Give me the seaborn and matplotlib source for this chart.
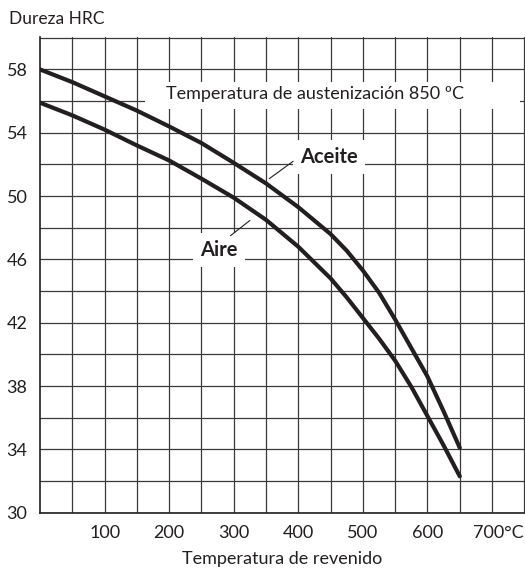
import pandas as pd
import seaborn as sns
import matplotlib
matplotlib.use('Agg')
import matplotlib.pyplot as plt
import matplotlib.transforms as mtransforms
from matplotlib.patches import Rectangle

# Tempering curves
temp = [0, 50, 100, 150, 200, 250, 300, 350, 400, 450, 475, 500, 525, 550, 575, 600, 625, 650]
aceite = [58.0, 57.2, 56.3, 55.4, 54.4, 53.35, 52.1, 50.8, 49.3, 47.6, 46.55, 45.3, 43.9, 42.2,
          40.4, 38.6, 36.4, 34.1]
aire = [55.9, 55.1, 54.2, 53.2, 52.25, 51.1, 49.9, 48.5, 46.8, 44.8, 43.6, 42.3, 41.0, 39.6,
        37.95, 36.1, 34.25, 32.3]

x_ticks = [100, 200, 300, 400, 500, 600, 700]
x_labels = ['100', '200', '300', '400', '500', '600', '700°C']
y_ticks = [30, 34, 38, 42, 46, 50, 54, 58]

df = pd.DataFrame({
    'temp': temp * 2,
    'hrc': aceite + aire,
    'medio': ['Aceite'] * len(temp) + ['Aire'] * len(temp),
})

sns.set_style('white')
plt.rcParams['font.family'] = ['Lato', 'DejaVu Sans']
ink = '#231f20'

fig = plt.figure(figsize=(5.25, 5.76), dpi=100)
ax = fig.add_axes([40 / 525, 63.3 / 576, 485 / 525, 475.7 / 576])

sns.lineplot(data=df, x='temp', y='hrc', hue='medio', palette=[ink, ink],
             linewidth=3.0, legend=False, ax=ax, zorder=4)
for line in ax.lines:
    line.set_solid_joinstyle('round')

ax.set_xlim(0, 751)
ax.set_ylim(30, 60.05)
ax.set_xticks(x_ticks)
ax.set_xticklabels(x_labels)
ax.set_xticks(range(50, 751, 50), minor=True)
ax.set_yticks(y_ticks)
ax.set_yticks(range(30, 61, 2), minor=True)
ax.grid(True, which='both', color='#3a3a3a', linewidth=0.9)
ax.set_axisbelow(True)
ax.tick_params(which='both', length=0, labelsize=13, colors=ink)
ax.tick_params(axis='x', pad=9)
ax.tick_params(axis='y', pad=9)

for side in ['top', 'right']:
    ax.spines[side].set_visible(False)
for side in ['left', 'bottom']:
    ax.spines[side].set_color(ink)
    ax.spines[side].set_linewidth(1.2)

# "700°C": keep the number roughly centred on its grid line
last = ax.get_xticklabels()[-1]
last.set_transform(last.get_transform() + mtransforms.ScaledTranslation(6 / 100, 0, fig.dpi_scale_trans))

ax.set_xlabel('Temperatura de revenido', fontsize=13, color=ink, labelpad=7)
ax.set_ylabel('')
fig.text(9 / 525, 1 - 19 / 576, 'Dureza HRC', fontsize=12.5, color=ink, va='center', ha='left')

# white panel behind the austenitizing note
ax.add_patch(Rectangle((163, 55.5), 580, 1.7, facecolor='white', edgecolor='none', zorder=2))
ax.text(426, 56.45, 'Temperatura de austenización 850 ºC', fontsize=13, color=ink,
        ha='center', va='center', zorder=3)

box = dict(boxstyle='square,pad=0.35', facecolor='white', edgecolor='none')
ax.text(447, 52.45, 'Aceite', fontsize=14.5, fontweight='bold', color=ink,
        ha='center', va='center', bbox=box, zorder=3)
ax.plot([392, 355], [52.2, 51.1], color=ink, linewidth=0.8, zorder=3)
ax.text(277, 46.57, 'Aire', fontsize=14.5, fontweight='bold', color=ink,
        ha='center', va='center', bbox=box, zorder=3)
ax.plot([295, 325], [47.5, 48.46], color=ink, linewidth=0.8, zorder=3)

fig.savefig('out.png', dpi=100)
